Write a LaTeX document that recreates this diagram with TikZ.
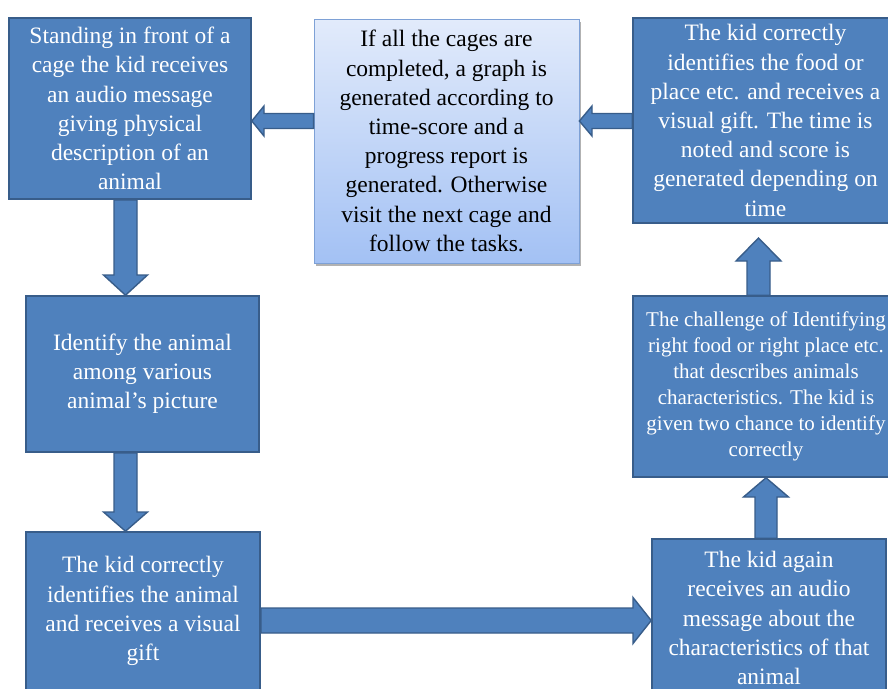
\documentclass[tikz,border=0pt]{standalone}
\usepackage{fontspec}
\setmainfont{Liberation Serif}
\newfontfamily\stepfont{Liberation Serif}
\usetikzlibrary{shadows}

\definecolor{boxblue}{HTML}{4F81BD}
\definecolor{boxedge}{HTML}{385D8A}
\definecolor{gradtop}{HTML}{E2EBFB}
\definecolor{gradbot}{HTML}{A3C1F4}
\definecolor{gradedge}{HTML}{7EA1D6}

\tikzset{
  stepbox/.style={rectangle, draw=boxedge, fill=boxblue, line width=1.6pt,
    text=white, align=center, inner sep=0pt,
    font=\stepfont\fontsize{23.5pt}{29.2pt}\selectfont},
  smallstep/.style={stepbox, font=\stepfont\fontsize{21pt}{26pt}\selectfont},
  notebox/.style={rectangle, draw=gradedge, line width=0.8pt,
    top color=gradtop, bottom color=gradbot, text=black, align=center,
    inner sep=0pt, font=\stepfont\fontsize{23.5pt}{29.2pt}\selectfont,
    drop shadow={shadow xshift=1.5pt, shadow yshift=-2.5pt, fill=black, opacity=0.3}},
  barrow/.style={draw=boxedge, fill=boxblue, line width=1.4pt, line join=miter},
}

\begin{document}
\begin{tikzpicture}[x=1pt, y=-1pt]
  \useasboundingbox (0,0) rectangle (888,688);
  \fill[white] (0,0) rectangle (888,688);
  \clip (0,0) rectangle (888,688);

  % process steps
  \node[stepbox, minimum width=242pt, minimum height=181pt] (b1) at (130,108.5)
    {Standing in front of a\\cage the kid receives\\an audio message\\giving physical\\description of an\\animal};
  \node[notebox, minimum width=265pt, minimum height=244pt] (b2) at (446.5,141)
    {If all the cages are\\completed, a graph is\\generated according to\\time-score and a\\progress report is\\generated. Otherwise\\visit the next cage and\\follow the tasks.};
  \node[stepbox, minimum width=265pt, minimum height=205pt] (b3) at (765.5,120.5)
    {The kid correctly\\identifies the food or\\place etc. and receives a\\visual gift. The time is\\noted and score is\\generated depending on\\time};
  \node[stepbox, minimum width=233pt, minimum height=156pt] (b4) at (142.5,374)
    {Identify the animal\\among various\\animal’s picture};
  \node[stepbox, minimum width=234pt, minimum height=158pt] (b5) at (143,611)
    {The kid correctly\\identifies the animal\\and receives a visual\\gift};
  \node[stepbox, minimum width=234pt, minimum height=158pt] (b6) at (769,618)
    {The kid again\\receives an audio\\message about the\\characteristics of that\\animal};
  \node[smallstep, minimum width=266pt, minimum height=181pt] (b7) at (766,386.5)
    {The challenge of Identifying\\right food or right place etc.\\that describes animals\\characteristics. The kid is\\given two chance to identify\\correctly};

  \coordinate (t7) at (758.5,238);

  % block arrows between the steps
  \draw[barrow] (b2.east |- 0,121) -- (592,106) -- (592,113.5) -- (b3.west |- 0,113.5)
    -- (b3.west |- 0,128.5) -- (592,128.5) -- (592,136) -- cycle;
  \draw[barrow] (b1.east |- 0,121) -- (264,106) -- (264,113.5) -- (b2.west |- 0,113.5)
    -- (b2.west |- 0,128.5) -- (264,128.5) -- (264,136) -- cycle;
  \draw[barrow] (125.5,0 |- b4.north) -- (147.5,275) -- (137,275) -- (137,0 |- b1.south)
    -- (114,0 |- b1.south) -- (114,275) -- (103.5,275) -- cycle;
  \draw[barrow] (125.5,0 |- b5.north) -- (147.5,512) -- (137,512) -- (137,0 |- b4.south)
    -- (114,0 |- b4.south) -- (114,512) -- (103.5,512) -- cycle;
  \draw[barrow] (b6.west |- 0,620.5) -- (633,643.5) -- (633,633) -- (b5.east |- 0,633)
    -- (b5.east |- 0,608) -- (633,608) -- (633,597.5) -- cycle;
  \draw[barrow] (766,0 |- b7.south) -- (788.5,497) -- (777,497) -- (777,0 |- b6.north)
    -- (755,0 |- b6.north) -- (755,497) -- (743.5,497) -- cycle;
  \draw[barrow] (t7) -- (781,261) -- (770,261) -- (770,0 |- b7.north)
    -- (747,0 |- b7.north) -- (747,261) -- (736,261) -- cycle;
\end{tikzpicture}
\end{document}
